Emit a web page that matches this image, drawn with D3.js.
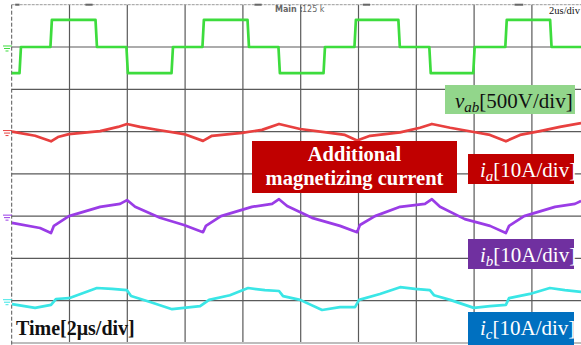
<!DOCTYPE html>
<html><head><meta charset="utf-8">
<script src="https://cdn.jsdelivr.net/npm/d3@7"></script>
<style>html,body{margin:0;padding:0;background:#fff;}svg{display:block;}</style>
</head><body>
<svg id="c" width="581" height="345"></svg>
<script>
// ---- data (time in µs, voltage in V, current in A) ----
const vabEdges = [0.29, 1.36, 2.92, 3.99, 5.55, 6.62, 8.18, 9.25, 10.81, 11.88, 13.40, 14.47, 15.99, 17.10, 18.65];
const vabLevels = [-310, 0, 320, 0, -310, 0, 320, 0, -310, 0, 320, 0, -310, 0, 320, 0];

const iaT = [0.01,0.81,1.36,1.60,1.98,3.06,3.68,3.99,4.44,5.13,5.96,6.62,6.93,7.97,8.66,9.25,9.98,11.01,11.53,11.95,12.40,13.44,14.13,14.54,15.17,15.99,16.55,17.10,17.59,18.28,18.97,19.70];
const iaA = [0.0,-1.0,-2.3,-1.3,-0.6,0.1,1.1,1.8,1.1,0.3,-0.6,-2.2,-1.0,-0.3,0.4,1.8,0.6,-0.3,-0.8,-2.1,-1.0,-0.2,0.9,1.8,0.9,-0.1,-0.8,-2.3,-0.8,0.1,1.1,2.0];

const ibT = [0.01,0.98,1.36,1.46,1.98,3.06,3.75,3.99,4.27,5.13,5.96,6.62,6.72,7.24,8.31,9.01,9.25,9.53,10.39,11.36,11.95,12.05,12.57,13.44,14.30,14.54,14.82,15.68,16.55,17.10,17.21,17.73,18.80,19.49,19.70];
const ibA = [-1.6,-2.8,-4.0,-2.3,0.0,2.2,2.9,3.8,2.2,-0.4,-2.1,-3.8,-2.3,0.0,2.2,2.9,4.0,2.4,-0.4,-2.3,-3.8,-2.1,0.0,2.2,2.9,4.0,2.2,-0.7,-2.3,-4.0,-2.3,0.0,2.2,2.9,3.6];

const icT = [0.01,0.81,1.36,1.53,1.98,2.95,3.47,3.99,4.13,4.79,5.55,6.52,6.83,7.55,8.18,8.76,9.25,9.39,9.98,10.74,11.36,11.88,12.02,12.74,13.44,13.95,14.47,14.61,15.17,15.99,16.55,17.10,17.21,17.93,18.62,19.14,19.70];
const icA = [-0.8,-1.7,-1.0,0.4,0.6,3.0,2.8,2.5,1.1,-0.3,-2.0,-1.3,0.2,1.3,3.0,2.5,2.3,1.1,0.2,-2.2,-1.5,-1.5,0.2,1.6,3.2,2.8,2.5,1.3,0.2,-1.7,-1.3,-1.0,0.6,1.6,3.0,2.5,2.1];

const channels = [
  {name:"vab", offset:3,  perDiv:500, color:"#3ddc3d"},
  {name:"ia",  offset:1,  perDiv:10,  color:"#e8403f"},
  {name:"ib",  offset:-1, perDiv:10,  color:"#9a3ce6"},
  {name:"ic",  offset:-3, perDiv:10,  color:"#3ae6e6"}
];

// ---- scales ----
const svg = d3.select("#c");
const x = d3.scaleLinear().domain([0, 20]).range([11.7, 589.7]);
const y = d3.scaleLinear().domain([4, -4]).range([4.7, 343]);

// ---- grid ----
const g = svg.append("g");
g.selectAll(".vg").data(d3.range(2, 20, 2)).join("line")
  .attr("x1", d => x(d)).attr("x2", d => x(d)).attr("y1", y(4)).attr("y2", y(-4))
  .attr("stroke", "#5a5a5a").attr("stroke-width", 1.2);
g.selectAll(".hg").data(d3.range(-3, 4, 1)).join("line")
  .attr("x1", x(0)).attr("x2", 581).attr("y1", d => y(d)).attr("y2", d => y(d))
  .attr("stroke", "#5a5a5a").attr("stroke-width", 1.2);
// frame
g.append("line").attr("x1", x(0)).attr("x2", 581).attr("y1", y(4)).attr("y2", y(4))
  .attr("stroke", "#9a9a9a").attr("stroke-width", 1).attr("stroke-dasharray", "3,1");
g.append("line").attr("x1", x(0)).attr("x2", 581).attr("y1", y(-4)).attr("y2", y(-4))
  .attr("stroke", "#bdbdbd").attr("stroke-width", 2);
g.append("line").attr("x1", x(0)).attr("x2", x(0)).attr("y1", y(4)).attr("y2", 345)
  .attr("stroke", "#555").attr("stroke-width", 1).attr("stroke-dasharray", "4,2");
// small marks on top border
[[0.12,0.27],[2.55,2.8],[8.4,8.65],[12.15,12.4],[17.4,17.7]].forEach(m => {
  g.append("line").attr("x1", x(m[0])).attr("x2", x(m[1])).attr("y1", y(4)).attr("y2", y(4))
    .attr("stroke", "#666").attr("stroke-width", 2);
});

// ---- traces ----
function vabPoints() {
  const pts = [];
  let t0 = 0;
  for (let i = 0; i < vabLevels.length; i++) {
    const t1 = i < vabEdges.length ? vabEdges[i] : 19.72;
    pts.push([t0 + (i ? 0.03 : 0), vabLevels[i]]);
    pts.push([t1 - 0.02, vabLevels[i]]);
    t0 = t1;
  }
  return pts;
}
const series = {
  vab: vabPoints(),
  ia: iaT.map((t, i) => [t, iaA[i]]),
  ib: ibT.map((t, i) => [t, ibA[i]]),
  ic: icT.map((t, i) => [t, icA[i]])
};
channels.forEach(ch => {
  const line = d3.line().x(d => x(d[0])).y(d => y(ch.offset + d[1] / ch.perDiv));
  svg.append("path").datum(series[ch.name]).attr("d", line)
    .attr("fill", "none").attr("stroke", ch.color).attr("stroke-width", 2.7)
    .attr("stroke-linejoin", "round");
  // ground marker
  const gy = y(ch.offset);
  const mk = svg.append("g").attr("stroke", ch.color).attr("stroke-width", 1);
  mk.append("line").attr("x1", 3).attr("x2", 12).attr("y1", gy - 1).attr("y2", gy - 1);
  mk.append("line").attr("x1", 4).attr("x2", 10).attr("y1", gy + 1.5).attr("y2", gy + 1.5);
  mk.append("line").attr("x1", 5.5).attr("x2", 8.5).attr("y1", gy + 4).attr("y2", gy + 4);
});

// ---- scope texts ----
svg.append("text").attr("x", 275).attr("y", 12).attr("font-family", "DejaVu Sans")
  .attr("font-size", 8).attr("font-weight", "bold").attr("fill", "#666").text("Main :");
svg.append("text").attr("x", 302).attr("y", 12).attr("font-family", "DejaVu Sans")
  .attr("font-size", 8).attr("fill", "#666").text("125 k");
svg.append("text").attr("x", 580).attr("y", 14).attr("text-anchor", "end").attr("font-family", "Liberation Serif")
  .attr("font-size", 10.5).attr("fill", "#111").text("2us/div");

// ---- label boxes ----
const serif = "Liberation Serif, Times New Roman, serif";
function box(x0, y0, w, h, fill) {
  svg.append("rect").attr("x", x0).attr("y", y0).attr("width", w).attr("height", h).attr("fill", fill);
}
function varLabel(x0, yb, v, sub, rest, col) {
  const t = svg.append("text").attr("x", x0).attr("y", yb).attr("font-family", serif)
    .attr("font-size", 21).attr("fill", col);
  t.append("tspan").attr("font-style", "italic").text(v);
  t.append("tspan").attr("font-style", "italic").attr("font-size", 15).attr("dy", 4).text(sub);
  t.append("tspan").attr("dy", -4).text(rest);
}
box(445, 85, 130, 29, "#92d68b");
varLabel(455, 108, "v", "ab", "[500V/div]", "#111");

box(252, 141, 205, 52, "#c00000");
svg.append("text").attr("x", 354.5).attr("y", 161).attr("text-anchor", "middle")
  .attr("font-family", serif).attr("font-weight", "bold").attr("font-size", 20.5)
  .attr("fill", "#fff").text("Additional");
svg.append("text").attr("x", 354.5).attr("y", 185).attr("text-anchor", "middle")
  .attr("font-family", serif).attr("font-weight", "bold").attr("font-size", 20.5)
  .attr("fill", "#fff").text("magnetizing current");

box(468, 154, 106, 30, "#c00000");
varLabel(480, 177, "i", "a", "[10A/div]", "#fff");
box(468, 239, 106, 30, "#7030a0");
varLabel(480, 262, "i", "b", "[10A/div]", "#fff");
box(468, 312, 106, 33, "#0070c0");
varLabel(480, 335, "i", "c", "[10A/div]", "#fff");

svg.append("text").attr("x", 16).attr("y", 335).attr("font-family", serif)
  .attr("font-weight", "bold").attr("font-size", 20).attr("fill", "#111").text("Time[2μs/div]");
</script>
</body></html>
